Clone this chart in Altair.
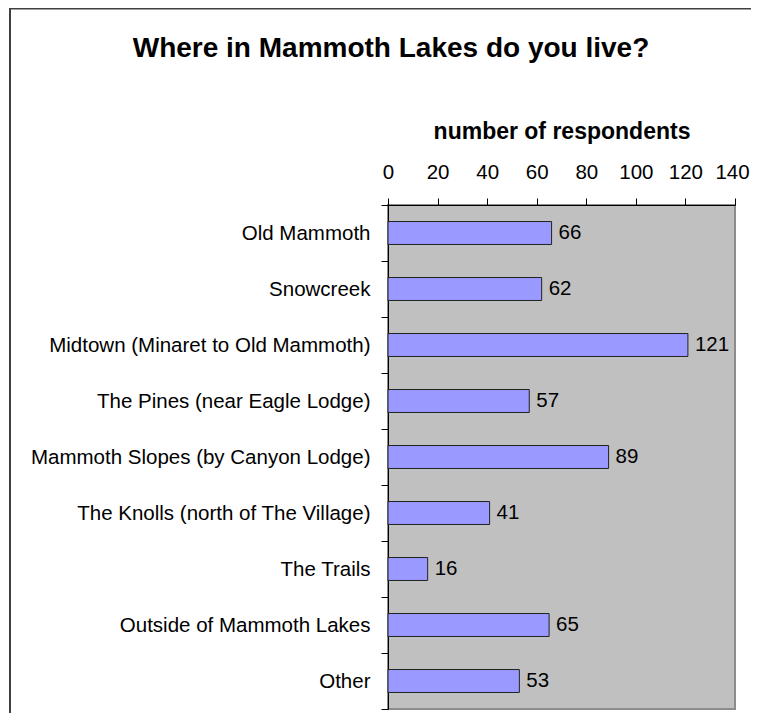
import altair as alt
import pandas as pd

categories = [
    "Old Mammoth",
    "Snowcreek",
    "Midtown (Minaret to Old Mammoth)",
    "The Pines (near Eagle Lodge)",
    "Mammoth Slopes (by Canyon Lodge)",
    "The Knolls (north of The Village)",
    "The Trails",
    "Outside of Mammoth Lakes",
    "Other",
]
values = [66, 62, 121, 57, 89, 41, 16, 65, 53]
x_ticks = [0, 20, 40, 60, 80, 100, 120, 140]

title_text = "Where in Mammoth Lakes do you live?"
x_title = "number of respondents"

FONT = "Liberation Sans"

df = pd.DataFrame({"area": categories, "count": values})

y_enc = alt.Y(
    "area:N",
    sort=categories,
    title=None,
    scale=alt.Scale(paddingInner=0, paddingOuter=0),
    axis=alt.Axis(
        tickBand="extent",
        tickSize=7,
        tickColor="black",
        domainColor="black",
        domainWidth=1,
        labelFontSize=20.5,
        labelFont=FONT,
        labelColor="black",
        labelPadding=11,
        labelLimit=600,
    ),
)

x_enc = alt.X(
    "count:Q",
    scale=alt.Scale(domain=[0, 140], nice=False),
    axis=alt.Axis(
        orient="top",
        values=x_ticks,
        grid=False,
        tickSize=7,
        tickColor="black",
        domainColor="black",
        domainWidth=1,
        labelFontSize=20.5,
        labelFont=FONT,
        labelColor="black",
        labelPadding=16,
        labelOverlap=False,
        labelFlush=False,
        labelOffset={"condition": {"test": "datum.value === 140", "value": -3}, "value": 0},
        title=x_title,
        titleFont=FONT,
        titleFontSize=23,
        titleFontWeight="bold",
        titleColor="black",
        titlePadding=19,
    ),
)

frame = alt.Chart(alt.Data(values=[{"a": 1}])).mark_rect(
    fillOpacity=0, stroke="#404040", strokeWidth=2
).encode(
    x=alt.value(-378),
    x2=alt.value(420),
    y=alt.value(-196.5),
    y2=alt.value(560),
)

bars = alt.Chart(df).mark_bar(
    color="#9999FF",
    stroke="#222222",
    strokeWidth=1,
    height=alt.RelativeBandSize(0.41),
).encode(y=y_enc, x=x_enc)

labels = alt.Chart(df).mark_text(
    align="left", baseline="middle", dx=7, fontSize=20.5, font=FONT, color="black"
).encode(y=alt.Y("area:N", sort=categories), x="count:Q", text="count:Q")

chart = alt.layer(frame, bars, labels).properties(
    width=347,
    height=504,
    title=alt.TitleParams(
        title_text,
        font=FONT,
        fontSize=28,
        fontWeight="bold",
        color="black",
        anchor="middle",
        frame="group",
        dx=-170.5,
        offset=-55,
    ),
    autosize=alt.AutoSizeParams(type="none"),
    padding={"left": 380, "top": 197, "right": 16, "bottom": 4},
).configure_view(
    fill="#C0C0C0", stroke="#8C8C8C", strokeWidth=2
)

chart.save("out.html", embed_options={"renderer": "svg", "actions": False})
